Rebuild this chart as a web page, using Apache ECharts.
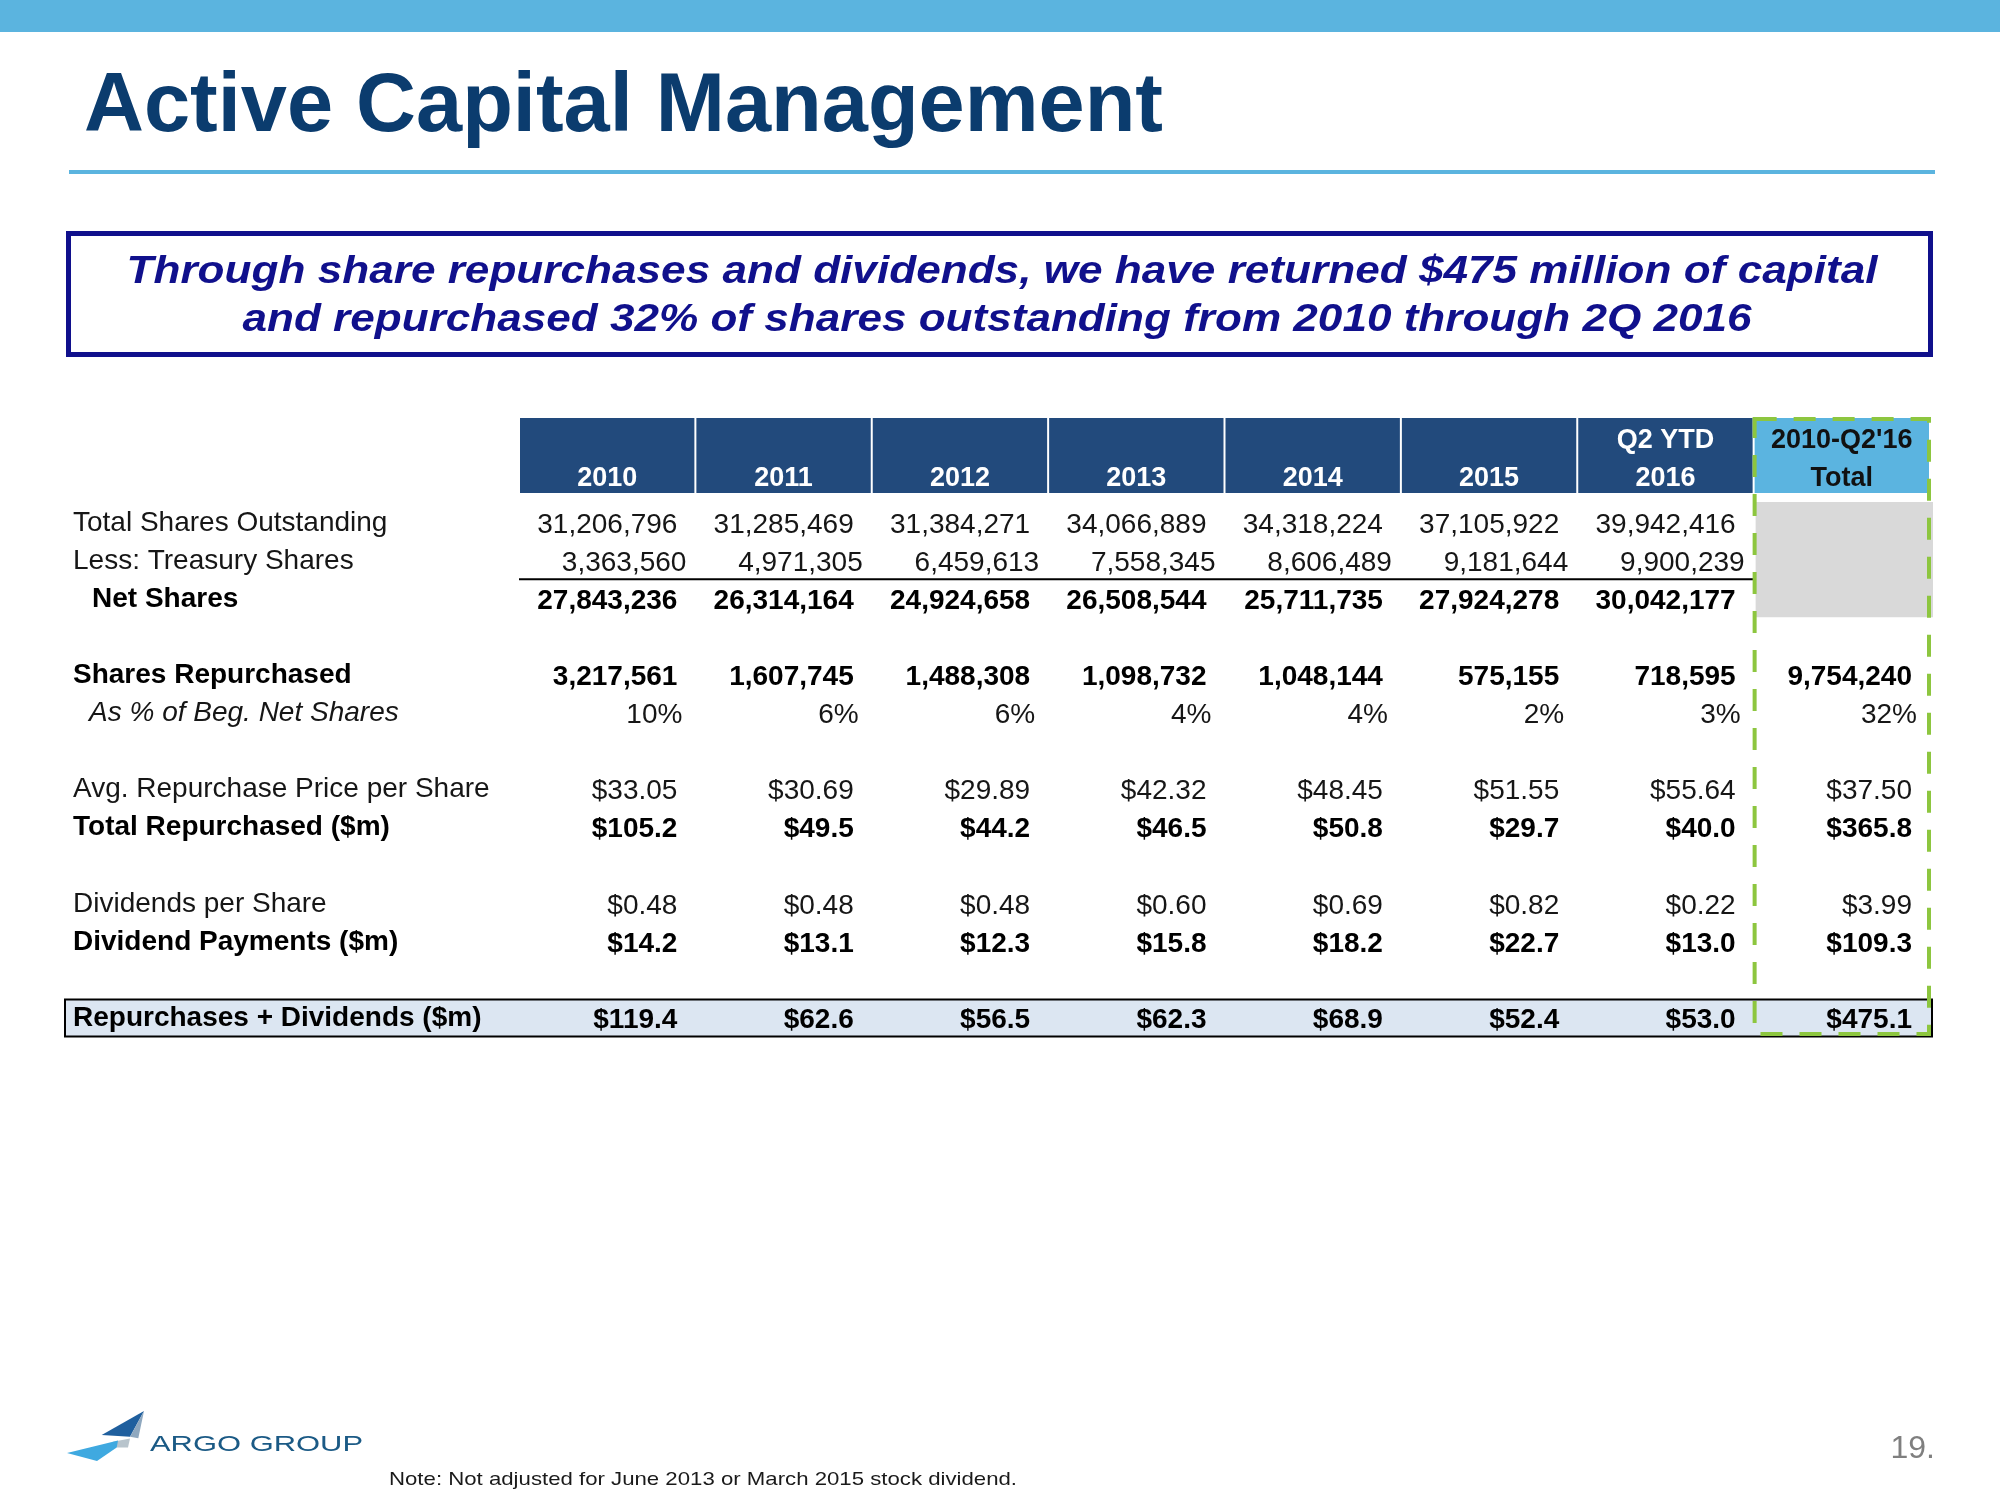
<!DOCTYPE html>
<html><head><meta charset="utf-8">
<script src="https://cdn.jsdelivr.net/npm/echarts@6/dist/echarts.min.js"></script>
<style>html,body{margin:0;padding:0;background:#fff}#c{width:2000px;height:1500px}</style>
</head><body><div id="c"></div>
<script>
// ---------------- DATA ----------------
const columns = ['2010', '2011', '2012', '2013', '2014', '2015', 'Q2 YTD\n2016', "2010-Q2'16\nTotal"];
const rowLabels = [
  'Total Shares Outstanding', 'Less: Treasury Shares', 'Net Shares', '',
  'Shares Repurchased', 'As % of Beg. Net Shares', '',
  'Avg. Repurchase Price per Share', 'Total Repurchased ($m)', '',
  'Dividends per Share', 'Dividend Payments ($m)', '',
  'Repurchases + Dividends ($m)'
];
const totalSharesOutstanding = [31206796, 31285469, 31384271, 34066889, 34318224, 37105922, 39942416, null];
const treasuryShares        = [3363560, 4971305, 6459613, 7558345, 8606489, 9181644, 9900239, null];
const netShares             = [27843236, 26314164, 24924658, 26508544, 25711735, 27924278, 30042177, null];
const sharesRepurchased     = [3217561, 1607745, 1488308, 1098732, 1048144, 575155, 718595, 9754240];
const pctOfBegNetShares     = [10, 6, 6, 4, 4, 2, 3, 32];
const avgRepurchasePrice    = [33.05, 30.69, 29.89, 42.32, 48.45, 51.55, 55.64, 37.50];
const totalRepurchased      = [105.2, 49.5, 44.2, 46.5, 50.8, 29.7, 40.0, 365.8];
const dividendsPerShare     = [0.48, 0.48, 0.48, 0.60, 0.69, 0.82, 0.22, 3.99];
const dividendPayments      = [14.2, 13.1, 12.3, 15.8, 18.2, 22.7, 13.0, 109.3];
const repurchasesPlusDivs   = [119.4, 62.6, 56.5, 62.3, 68.9, 52.4, 53.0, 475.1];

const rowData = [totalSharesOutstanding, treasuryShares, netShares, null,
  sharesRepurchased, pctOfBegNetShares, null,
  avgRepurchasePrice, totalRepurchased, null,
  dividendsPerShare, dividendPayments, null,
  repurchasesPlusDivs];

// ---------------- STYLE / LAYOUT ----------------
const F = "'Liberation Sans', Arial, Helvetica, sans-serif";
const rowKinds  = ['int','int','int',null,'int','pct',null,'usd2','usd1',null,'usd2','usd1',null,'usd1'];
const rowBold   = [false,false,true,false,true,false,false,false,true,false,false,true,false,true];
const rowInset  = [18,9,18,18,18,13,18,18,18,18,18,18,18,18];
const labelKeys = ['n','n','bi','n','b','i','n','n','b','n','n','b','n','b'];

const TABLE_LEFT = 519, TABLE_W = 1411;
const HEADER_TOP = 418, HEADER_H = 75;
const BODY_TOP = 504, ROW_H = 38.08, NROWS = 14;
const SUM_LEFT = 65;

function fmt(kind, v) {
  if (kind === 'int') return Math.round(v).toLocaleString('en-US');
  if (kind === 'pct') return v + '%';
  if (kind === 'usd2') return '$' + v.toFixed(2);
  if (kind === 'usd1') return '$' + v.toFixed(1);
  return '';
}

const mctx = document.createElement('canvas').getContext('2d');
function fitScale(text, font, target) { mctx.font = font; return target / mctx.measureText(text).width; }

// cell data
const cellData = [];
rowData.forEach((arr, r) => { if (!arr) return; arr.forEach((v, c) => { if (v !== null) cellData.push([c, r, v]); }); });

const chart = echarts.init(document.getElementById('c'), null, { renderer: 'canvas' });

const labelRich = {
  n:  { fontSize: 28, fontFamily: F, color: '#161616' },
  b:  { fontSize: 28, fontFamily: F, color: '#000', fontWeight: 'bold' },
  bi: { fontSize: 28, fontFamily: F, color: '#000', fontWeight: 'bold', padding: [0, 0, 0, 19] },
  i:  { fontSize: 28, fontFamily: F, color: '#161616', fontStyle: 'italic', padding: [0, 0, 0, 16] }
};

const subtitle1 = 'Through share repurchases and dividends, we have returned $475 million of capital';
const subtitle2 = 'and repurchased 32% of shares outstanding from 2010 through 2Q 2016';
const titleText = 'Active Capital Management';
const noteText = 'Note: Not adjusted for June 2013 or March 2015 stock dividend.';

const subFont = "italic bold 38px " + F;
const option = {
  animation: false,
  backgroundColor: '#fff',
  grid: [
    { left: TABLE_LEFT, top: BODY_TOP, width: TABLE_W, height: ROW_H * NROWS, outerBoundsMode: 'none', containLabel: false },
    { left: TABLE_LEFT, top: HEADER_TOP, width: TABLE_W, height: HEADER_H, outerBoundsMode: 'none', containLabel: false }
  ],
  xAxis: [
    { type: 'category', gridIndex: 0, data: columns, show: false },
    { type: 'category', gridIndex: 1, data: columns, show: false }
  ],
  yAxis: [
    { type: 'category', gridIndex: 0, data: rowLabels, inverse: true, z: 6,
      axisLine: { show: false }, axisTick: { show: false }, splitLine: { show: false },
      axisLabel: { show: true, interval: 0, align: 'left', margin: 446, rich: labelRich,
        formatter: (val, idx) => val ? '{' + labelKeys[idx] + '|' + val + '}' : '' } },
    { type: 'category', gridIndex: 1, data: ['header'], show: false }
  ],
  series: [
    { // table decorations: underline, grey block, summary band
      type: 'custom', xAxisIndex: 0, yAxisIndex: 0, z: 1, silent: true, clip: false,
      data: [[0, 0]],
      renderItem(params, api) {
        const s = api.size([1, 1]);
        const a = api.coord([0, 1]), b = api.coord([6, 1]);
        const ly = a[1] + s[1] / 2 - 1;
        const g0 = api.coord([7, 0]), g2 = api.coord([7, 2]);
        const b0 = api.coord([0, 13]), b7 = api.coord([7, 13]);
        return { type: 'group', children: [
          { type: 'rect', shape: { x: g0[0] - s[0] / 2 + 2, y: g0[1] - s[1] / 2 - 2, width: s[0] + 1, height: g2[1] - g0[1] + s[1] + 1 }, style: { fill: '#D9D9D9' } },
          { type: 'line', shape: { x1: a[0] - s[0] / 2, y1: ly, x2: b[0] + s[0] / 2, y2: ly }, style: { stroke: '#000', lineWidth: 2 } },
          { type: 'rect', shape: { x: SUM_LEFT, y: b0[1] - s[1] / 2 + 0.5, width: b7[0] + s[0] / 2 + 2 - SUM_LEFT, height: s[1] - 1 }, style: { fill: '#DCE6F2', stroke: '#000', lineWidth: 2 } }
        ] };
      }
    },
    { // values
      type: 'custom', xAxisIndex: 0, yAxisIndex: 0, z: 3, silent: true, clip: false,
      data: cellData,
      renderItem(params, api) {
        const c = api.value(0), r = api.value(1), v = api.value(2);
        const p = api.coord([c, r]); const s = api.size([1, 1]);
        return { type: 'text', style: {
          x: p[0] + s[0] / 2 - rowInset[r], y: p[1] + 2, text: fmt(rowKinds[r], v),
          align: 'right', verticalAlign: 'middle', fontFamily: F, fontSize: 28,
          fontWeight: rowBold[r] ? 'bold' : 'normal', fill: rowBold[r] ? '#000' : '#161616' } };
      }
    },
    { // header cells + dashed highlight of total column
      type: 'custom', xAxisIndex: 1, yAxisIndex: 1, z: 4, silent: true, clip: false,
      data: columns.map((_, i) => [i, 0]),
      renderItem(params, api) {
        const c = api.value(0);
        const p = api.coord([c, 0]); const s = api.size([1, 1]);
        const x0 = p[0] - s[0] / 2, top = p[1] - s[1] / 2;
        const isTotal = c === columns.length - 1;
        const lines = columns[c].split('\n');
        const children = [{ type: 'rect', shape: { x: x0 + 1, y: top, width: s[0] - 2, height: s[1] }, style: { fill: isTotal ? '#5BB4E0' : '#224A7C' } }];
        const ys = lines.length === 2 ? [top + 23, top + 61] : [top + 61];
        lines.forEach((t, k) => children.push({ type: 'text', style: {
          x: p[0], y: ys[k], text: t, align: 'center', verticalAlign: 'middle',
          fontFamily: F, fontSize: 27, fontWeight: 'bold', fill: isTotal ? '#111' : '#fff' } }));
        if (isTotal) {
          const bottom = BODY_TOP + ROW_H * NROWS - 3;
          children.push({ type: 'rect', shape: { x: x0 + 1, y: top + 1, width: s[0] - 2, height: bottom - top - 1 },
            style: { fill: 'none', stroke: '#8DC63F', lineWidth: 4, lineDash: [22, 17] } });
        }
        return { type: 'group', children };
      }
    }
  ],
  graphic: [
    { type: 'rect', shape: { x: 0, y: 0, width: 2000, height: 32 }, style: { fill: '#5BB4DF' } },
    { type: 'text', x: 84, y: 108, scaleX: fitScale(titleText, "bold 84px " + F, 1079),
      style: { text: titleText, fontFamily: F, fontSize: 84, fontWeight: 'bold', fill: '#0B3C6E', align: 'left', verticalAlign: 'middle' } },
    { type: 'rect', shape: { x: 69, y: 170, width: 1866, height: 4 }, style: { fill: '#5BB4DF' } },
    { type: 'rect', shape: { x: 68.5, y: 233.5, width: 1862, height: 121 }, style: { fill: 'none', stroke: '#10108C', lineWidth: 5 } },
    { type: 'text', x: 1002, y: 273, scaleX: fitScale(subtitle1, subFont, 1751),
      style: { text: subtitle1, fontFamily: F, fontSize: 38, fontWeight: 'bold', fontStyle: 'italic', fill: '#10108C', align: 'center', verticalAlign: 'middle' } },
    { type: 'text', x: 997, y: 321, scaleX: fitScale(subtitle2, subFont, 1509),
      style: { text: subtitle2, fontFamily: F, fontSize: 38, fontWeight: 'bold', fontStyle: 'italic', fill: '#10108C', align: 'center', verticalAlign: 'middle' } },
    // logo
    { type: 'polygon', shape: { points: [[101.7, 1435], [144, 1411], [130, 1436.7]] }, style: { fill: '#1F5F9E' } },
    { type: 'polygon', shape: { points: [[130, 1436.7], [144, 1411], [138.3, 1438.3]] }, style: { fill: '#8FA8BF' } },
    { type: 'polygon', shape: { points: [[113, 1441.7], [130, 1438.5], [128, 1447.5], [116.7, 1447.5]] }, style: { fill: '#B8C4CC' } },
    { type: 'polygon', shape: { points: [[67, 1453], [118, 1440.5], [116.7, 1447.5], [97, 1461]] }, style: { fill: '#3FA9E0' } },
    { type: 'text', x: 150, y: 1445, scaleX: fitScale('ARGO GROUP', "22px " + F, 213),
      style: { text: 'ARGO GROUP', fontFamily: F, fontSize: 22, fill: '#1B5A85', align: 'left', verticalAlign: 'middle' } },
    { type: 'text', x: 389, y: 1480, scaleX: fitScale(noteText, "19px " + F, 628),
      style: { text: noteText, fontFamily: F, fontSize: 19, fill: '#1a1a1a', align: 'left', verticalAlign: 'middle' } },
    { type: 'text', x: 1935, y: 1449, style: { text: '19.', fontFamily: F, fontSize: 32, fill: '#7F7F7F', align: 'right', verticalAlign: 'middle' } }
  ]
};
chart.setOption(option);
</script>
</body></html>
